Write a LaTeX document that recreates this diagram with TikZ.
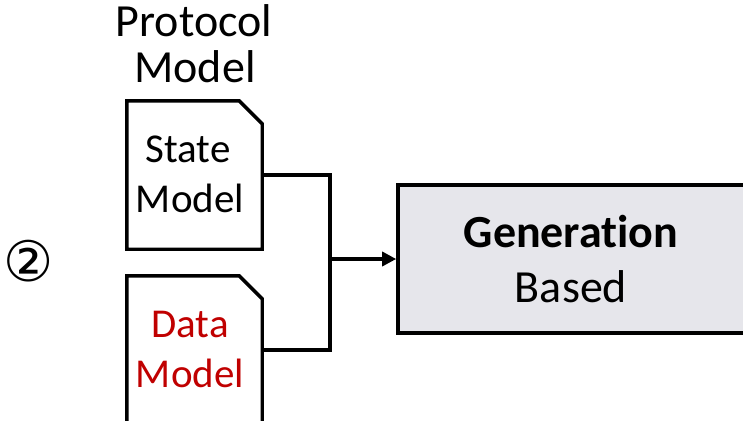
\documentclass[tikz,border=0pt]{standalone}
\usepackage{fontspec}
\setmainfont{Carlito}[Ligatures=NoCommon]
\newfontfamily\symfont{DejaVu Sans}
\usetikzlibrary{arrows.meta}
\definecolor{genfill}{RGB}{230,230,235}
\definecolor{datared}{RGB}{192,0,0}
\begin{document}
\begin{tikzpicture}[x=1pt,y=-1pt,
  doc/.style={minimum width=135pt, minimum height=148pt, inner sep=0pt},
  docline/.style={line width=3.4pt, line join=miter},
  wire/.style={line width=3.3pt},
  small/.style={anchor=base, inner sep=0pt, font=\fontsize{41}{50}\selectfont},
  big/.style={anchor=base, inner sep=0pt, font=\fontsize{46}{55}\selectfont},
  genbox/.style={draw, fill=genfill, line width=3.6pt, minimum width=350pt,
    minimum height=148pt, inner sep=0pt}]
\useasboundingbox (0,0) rectangle (743,420);
\clip (0,0) rectangle (743,420);

% title
\node[big] (titleA) at (194,37) {Protocol};
\node[big] (titleB) at (195,82) {Model};

% step number
\node[inner sep=0pt, font=\fontsize{56}{56}\symfont] (num) at (29,261) {②};

% state model document
\node[doc] (state) at (194.5,175) {};
\draw[docline] (state.north west) -- ([xshift=-23pt]state.north east)
  -- ([yshift=-23pt]state.north east) -- (state.south east)
  -- (state.south west) -- cycle;
\node[small] (stateA) at (188,162) {State};
\node[small] (stateB) at (190,212) {Model};

% data model document
\node[doc] (data) at (194.5,350) {};
\draw[docline] (data.north west) -- ([xshift=-23pt]data.north east)
  -- ([yshift=-23pt]data.north east) -- (data.south east)
  -- (data.south west) -- cycle;
\node[small, text=datared] (dataA) at (190,337) {Data};
\node[small, text=datared] (dataB) at (190,387) {Model};

% generation box
\node[genbox] (gen) at (573,259) {};
\node[big] (genA) at (571,247) {\bfseries Generation};
\node[big] (genB) at (571,302) {Based};

% connectors
\coordinate (jn) at (330,259);
\draw[wire] (state.east) -| (jn) |- (data.east);
\draw[wire, -{Triangle[length=14pt,width=14pt]}] (jn) -- (gen.west);
\end{tikzpicture}
\end{document}
